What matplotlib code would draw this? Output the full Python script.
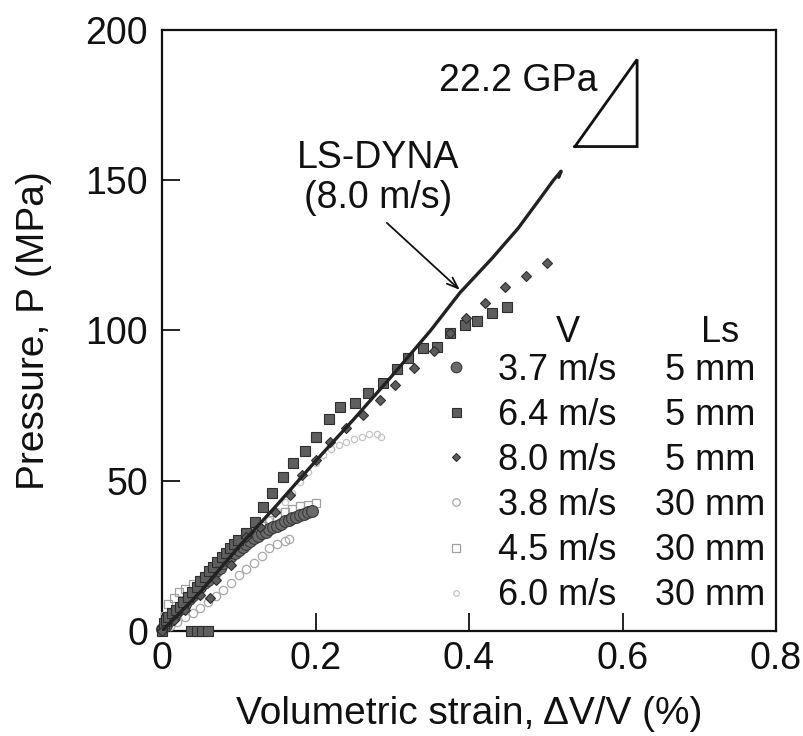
import matplotlib
matplotlib.use("Agg")
import matplotlib.pyplot as plt

plt.rcParams['font.family'] = ['Liberation Sans', 'DejaVu Sans']

# ---------------- data ----------------
# LS-DYNA simulation (8.0 m/s)
ls_x = [0.0, 0.05, 0.10, 0.15, 0.20, 0.25, 0.30, 0.35, 0.388, 0.43, 0.464, 0.49, 0.51, 0.52, 0.517]
ls_y = [0.0, 13, 28, 42, 56.5, 70.5, 85, 100, 112.5, 124, 134, 143, 150, 153, 151]

# 3.7 m/s, 5 mm
s37_x = [0.0, 0.005, 0.01, 0.015, 0.02, 0.025, 0.03, 0.035, 0.04, 0.045, 0.05, 0.055, 0.06,
         0.065, 0.07, 0.075, 0.08, 0.085, 0.09, 0.095, 0.10, 0.105, 0.11, 0.115, 0.12, 0.125,
         0.13, 0.135, 0.14, 0.145, 0.15, 0.155, 0.16, 0.165, 0.17, 0.175, 0.18, 0.185, 0.19,
         0.195]
s37_y = [0.5, 2, 3.5, 5, 6.5, 7.5, 9, 10.5, 12, 13, 14.5, 16, 17, 18.5, 20, 21, 22.5, 23.5,
         25, 26, 27, 28, 29, 30, 31, 31.5, 32.5, 33, 34, 34.5, 35, 35.5, 36.5, 37, 37.5, 38,
         38.5, 39, 39.5, 40]

# 6.4 m/s, 5 mm
s64_x = [0.0, 0.002, 0.005, 0.008, 0.013, 0.018, 0.023, 0.028, 0.034, 0.038, 0.039, 0.045,
         0.045, 0.050, 0.052, 0.056, 0.060, 0.061, 0.067, 0.072, 0.078, 0.083, 0.089, 0.094,
         0.0995, 0.110, 0.121, 0.132, 0.143, 0.157, 0.171, 0.186, 0.201, 0.217, 0.232, 0.251,
         0.269, 0.288, 0.306, 0.321, 0.340, 0.358, 0.375, 0.395, 0.410, 0.430, 0.449]
s64_y = [0.0, 2.6, 3.5, 4.5, 5.9, 7.0, 8.1, 9.8, 11.4, 0.0, 13.0, 0.0, 14.7, 16.5, 0.0, 18.1,
         0.0, 19.8, 21.4, 23.0, 24.7, 26.0, 27.5, 29.0, 30.3, 32.5, 36.4, 41.4, 45.8, 51.1,
         56.0, 60.0, 64.7, 70.4, 74.6, 76.0, 79.3, 82.4, 87.1, 90.8, 94.1, 94.6, 99.1, 101.8,
         103.3, 105.9, 107.9]

# 8.0 m/s, 5 mm
s80_x = [0.0, 0.015, 0.03, 0.05, 0.0625, 0.07, 0.09, 0.110, 0.128, 0.147, 0.167, 0.182, 0.201,
         0.219, 0.240, 0.262, 0.284, 0.304, 0.328, 0.355, 0.375, 0.396, 0.421, 0.447, 0.474,
         0.501]
s80_y = [0.0, 3.5, 7, 12, 10.9, 17, 22, 31.4, 34.7, 39.7, 45.3, 51.9, 56.9, 63.0, 67.4, 71.9,
         76.9, 82.0, 87.4, 93.0, 99.0, 104.3, 109.3, 114.4, 118.1, 122.6]

# 3.8 m/s, 30 mm
s38_x = [0.0, 0.01, 0.02, 0.03, 0.04, 0.05, 0.06, 0.07, 0.08, 0.09, 0.10, 0.11, 0.12, 0.13,
         0.14, 0.15, 0.16, 0.165]
s38_y = [0.0, 1.5, 3, 4.5, 6, 7.5, 9.5, 11.5, 13.5, 16, 18.5, 20.5, 22.5, 25, 27.5, 29, 30, 30.5]

# 4.5 m/s, 30 mm
s45_x = [0.0, 0.004, 0.008, 0.015, 0.022, 0.03, 0.04, 0.05, 0.06, 0.07, 0.08, 0.09, 0.10,
         0.11, 0.12, 0.13, 0.14, 0.15, 0.16, 0.17, 0.18, 0.19, 0.20]
s45_y = [0.0, 5, 9, 11, 13, 14, 15.5, 17, 19, 21.5, 24, 26.5, 29, 31, 33, 35, 37, 38, 39.5,
         40.5, 41.5, 42, 42.5]

# 6.0 m/s, 30 mm
s60_x = [0.0, 0.01, 0.02, 0.03, 0.04, 0.05, 0.06, 0.07, 0.08, 0.09, 0.10, 0.11, 0.12, 0.13,
         0.14, 0.15, 0.16, 0.17, 0.18, 0.19, 0.20, 0.21, 0.22, 0.23, 0.24, 0.25, 0.26, 0.27,
         0.28, 0.285]
s60_y = [0.0, 3, 5.5, 8, 10.5, 13, 15.5, 18, 20.5, 23, 25.5, 28, 31, 34, 37, 40, 43, 46, 49.5,
         53, 56, 58.5, 60.5, 62, 63, 64, 64.5, 65.5, 65.5, 64.5]

legend_v = ["3.7 m/s", "6.4 m/s", "8.0 m/s", "3.8 m/s", "4.5 m/s", "6.0 m/s"]
legend_ls = ["5 mm", "5 mm", "5 mm", "30 mm", "30 mm", "30 mm"]

# slope triangle (22.2 GPa)
tri_x = [0.538, 0.619, 0.619, 0.538]
tri_y = [161.2, 161.2, 190.2, 161.2]

x_ticks = [0, 0.2, 0.4, 0.6, 0.8]
x_ticklabels = ["0", "0.2", "0.4", "0.6", "0.8"]
y_ticks = [0, 50, 100, 150, 200]

# ---------------- figure ----------------
fig = plt.figure(figsize=(8.04, 7.36), dpi=100)
ax = fig.add_axes([0.2015, 0.1427, 0.7637, 0.8166])

ax.plot(ls_x, ls_y, color='#222222', lw=2.4, solid_capstyle='round', zorder=4)

series = [
    (s60_x, s60_y, dict(marker='o', ms=4.5, mfc='none', mec='#c4c4c4', mew=0.9)),
    (s38_x, s38_y, dict(marker='o', ms=6, mfc='none', mec='#a8a8a8', mew=0.9)),
    (s45_x, s45_y, dict(marker='s', ms=6, mfc='none', mec='#a0a0a0', mew=0.9)),
    (s37_x, s37_y, dict(marker='o', ms=8.5, mfc='#6a6a6a', mec='#3a3a3a', mew=0.8)),
    (s64_x, s64_y, dict(marker='s', ms=7.2, mfc='#5e5e5e', mec='#2e2e2e', mew=0.8)),
    (s80_x, s80_y, dict(marker='D', ms=4.8, mfc='#5c5c5c', mec='#2e2e2e', mew=0.8)),
]
handles = {}
for i, (xs, ys, st) in enumerate(series):
    ln, = ax.plot(xs, ys, ls='none', clip_on=False, zorder=3 + i * 0.1, **st)
    handles[i] = ln
# legend order: 3.7, 6.4, 8.0, 3.8, 4.5, 6.0
leg_handles = [handles[3], handles[4], handles[5], handles[1], handles[2], handles[0]]

ax.set_xlim(0, 0.8)
ax.set_ylim(0, 200)
ax.set_xticks(x_ticks)
ax.set_xticklabels(x_ticklabels)
ax.set_yticks(y_ticks)
ax.tick_params(direction='in', length=13, width=1.3, labelsize=27, colors='#111111')
ax.tick_params(axis='x', pad=7)
ax.tick_params(axis='y', pad=10)
for sp in ax.spines.values():
    sp.set_linewidth(1.6)
    sp.set_color('#111111')

ax.set_xlabel("Volumetric strain, \u0394V/V (%)", fontsize=28, labelpad=14, color='#111111')
ax.set_ylabel("Pressure, P (MPa)", fontsize=28, labelpad=24, color='#111111')

# LS-DYNA annotation
ax.text(0.281, 150.7, "LS-DYNA\n(8.0 m/s)", fontsize=27, ha='center', va='center',
        linespacing=1.15, color='#111111')
ax.annotate("", xy=(0.388, 113.5), xytext=(0.293, 135.8),
            arrowprops=dict(arrowstyle='->,head_length=0.8,head_width=0.3', lw=1.3,
                            color='#111111', shrinkA=0, shrinkB=0))

# slope triangle
ax.plot(tri_x, tri_y, color='#111111', lw=2.0, solid_joinstyle='miter')
ax.text(0.464, 183, "22.2 GPa", fontsize=27, ha='center', va='center', color='#111111')

# legend
leg = ax.legend(leg_handles, legend_v, loc='upper left', bbox_to_anchor=(0.450, 0.463),
                frameon=False, fontsize=26, numpoints=1, handlelength=1.0,
                handletextpad=0.65, labelspacing=0.28, borderpad=0, borderaxespad=0,
                markerscale=0.9)
leg.set_zorder(5)
texts = leg.get_texts()
for t, ls_lab in zip(texts, legend_ls):
    t.set_color('#111111')
    ax.annotate(ls_lab, xy=(0, 0.5), xycoords=t, xytext=(153, 0),
                textcoords='offset points', ha='center', va='center', fontsize=26,
                color='#111111', zorder=10)
ax.annotate("V", xy=(0, 0.5), xycoords=texts[0], xytext=(50.4, 27.4),
            textcoords='offset points', ha='center', va='center', fontsize=26,
            color='#111111', zorder=10)
ax.annotate("Ls", xy=(0, 0.5), xycoords=texts[0], xytext=(160, 27.4),
            textcoords='offset points', ha='center', va='center', fontsize=26,
            color='#111111', zorder=10)

fig.savefig("out.png", dpi=100)
